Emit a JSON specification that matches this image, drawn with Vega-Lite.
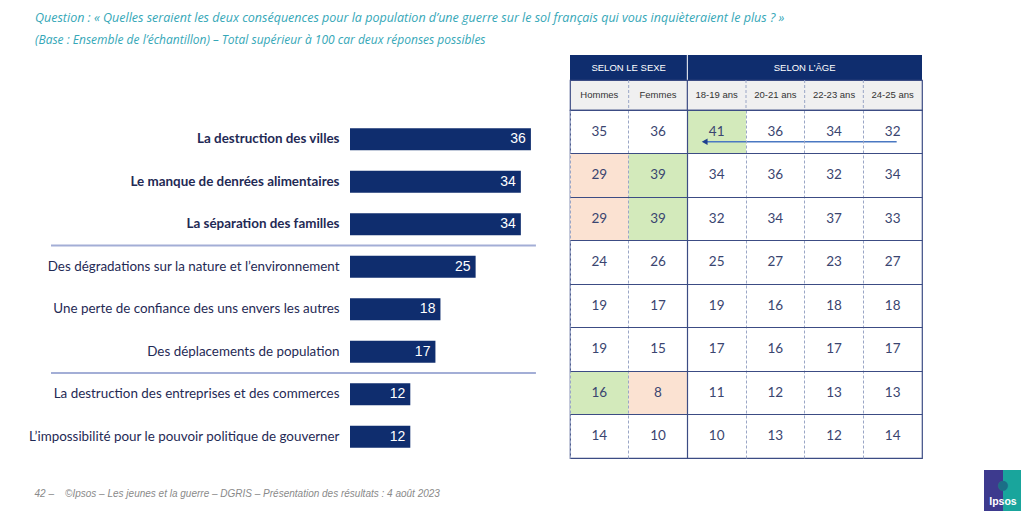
{
  "$schema": "https://vega.github.io/schema/vega-lite/v6.json",
  "padding": {"left": 28, "top": 12, "right": 0, "bottom": 0},
  "background": "white",
  "title": {
    "text": "Question : « Quelles seraient les deux conséquences pour la population d’une guerre sur le sol français qui vous inquièteraient le plus ? »",
    "subtitle": "(Base : Ensemble de l’échantillon) – Total supérieur à 100 car deux réponses possibles",
    "anchor": "start", "dx": 7, "font": "Open Sans", "fontSize": 12.5, "fontStyle": "italic", "fontWeight": "normal", "color": "#35a7b7",
    "subtitleFont": "Open Sans", "subtitleFontSize": 12, "subtitleFontStyle": "italic", "subtitleColor": "#35a7b7", "subtitlePadding": 10, "offset": 9
  },
  "datasets": {
    "items": [
      {"item": "La destruction des villes", "total": 36},
      {"item": "Le manque de denrées alimentaires", "total": 34},
      {"item": "La séparation des familles", "total": 34},
      {"item": "Des dégradations sur la nature et l’environnement", "total": 25},
      {"item": "Une perte de confiance des uns envers les autres", "total": 18},
      {"item": "Des déplacements de population", "total": 17},
      {"item": "La destruction des entreprises et des commerces", "total": 12},
      {"item": "L’impossibilité pour le pouvoir politique de gouverner", "total": 12}
    ],
    "cells": [
      {"item": "La destruction des villes", "groupe": "Hommes", "value": 35, "signif": ""},
      {"item": "La destruction des villes", "groupe": "Femmes", "value": 36, "signif": ""},
      {"item": "La destruction des villes", "groupe": "18-19 ans", "value": 41, "signif": "+"},
      {"item": "La destruction des villes", "groupe": "20-21 ans", "value": 36, "signif": ""},
      {"item": "La destruction des villes", "groupe": "22-23 ans", "value": 34, "signif": ""},
      {"item": "La destruction des villes", "groupe": "24-25 ans", "value": 32, "signif": ""},
      {"item": "Le manque de denrées alimentaires", "groupe": "Hommes", "value": 29, "signif": "-"},
      {"item": "Le manque de denrées alimentaires", "groupe": "Femmes", "value": 39, "signif": "+"},
      {"item": "Le manque de denrées alimentaires", "groupe": "18-19 ans", "value": 34, "signif": ""},
      {"item": "Le manque de denrées alimentaires", "groupe": "20-21 ans", "value": 36, "signif": ""},
      {"item": "Le manque de denrées alimentaires", "groupe": "22-23 ans", "value": 32, "signif": ""},
      {"item": "Le manque de denrées alimentaires", "groupe": "24-25 ans", "value": 34, "signif": ""},
      {"item": "La séparation des familles", "groupe": "Hommes", "value": 29, "signif": "-"},
      {"item": "La séparation des familles", "groupe": "Femmes", "value": 39, "signif": "+"},
      {"item": "La séparation des familles", "groupe": "18-19 ans", "value": 32, "signif": ""},
      {"item": "La séparation des familles", "groupe": "20-21 ans", "value": 34, "signif": ""},
      {"item": "La séparation des familles", "groupe": "22-23 ans", "value": 37, "signif": ""},
      {"item": "La séparation des familles", "groupe": "24-25 ans", "value": 33, "signif": ""},
      {"item": "Des dégradations sur la nature et l’environnement", "groupe": "Hommes", "value": 24, "signif": ""},
      {"item": "Des dégradations sur la nature et l’environnement", "groupe": "Femmes", "value": 26, "signif": ""},
      {"item": "Des dégradations sur la nature et l’environnement", "groupe": "18-19 ans", "value": 25, "signif": ""},
      {"item": "Des dégradations sur la nature et l’environnement", "groupe": "20-21 ans", "value": 27, "signif": ""},
      {"item": "Des dégradations sur la nature et l’environnement", "groupe": "22-23 ans", "value": 23, "signif": ""},
      {"item": "Des dégradations sur la nature et l’environnement", "groupe": "24-25 ans", "value": 27, "signif": ""},
      {"item": "Une perte de confiance des uns envers les autres", "groupe": "Hommes", "value": 19, "signif": ""},
      {"item": "Une perte de confiance des uns envers les autres", "groupe": "Femmes", "value": 17, "signif": ""},
      {"item": "Une perte de confiance des uns envers les autres", "groupe": "18-19 ans", "value": 19, "signif": ""},
      {"item": "Une perte de confiance des uns envers les autres", "groupe": "20-21 ans", "value": 16, "signif": ""},
      {"item": "Une perte de confiance des uns envers les autres", "groupe": "22-23 ans", "value": 18, "signif": ""},
      {"item": "Une perte de confiance des uns envers les autres", "groupe": "24-25 ans", "value": 18, "signif": ""},
      {"item": "Des déplacements de population", "groupe": "Hommes", "value": 19, "signif": ""},
      {"item": "Des déplacements de population", "groupe": "Femmes", "value": 15, "signif": ""},
      {"item": "Des déplacements de population", "groupe": "18-19 ans", "value": 17, "signif": ""},
      {"item": "Des déplacements de population", "groupe": "20-21 ans", "value": 16, "signif": ""},
      {"item": "Des déplacements de population", "groupe": "22-23 ans", "value": 17, "signif": ""},
      {"item": "Des déplacements de population", "groupe": "24-25 ans", "value": 17, "signif": ""},
      {"item": "La destruction des entreprises et des commerces", "groupe": "Hommes", "value": 16, "signif": "+"},
      {"item": "La destruction des entreprises et des commerces", "groupe": "Femmes", "value": 8, "signif": "-"},
      {"item": "La destruction des entreprises et des commerces", "groupe": "18-19 ans", "value": 11, "signif": ""},
      {"item": "La destruction des entreprises et des commerces", "groupe": "20-21 ans", "value": 12, "signif": ""},
      {"item": "La destruction des entreprises et des commerces", "groupe": "22-23 ans", "value": 13, "signif": ""},
      {"item": "La destruction des entreprises et des commerces", "groupe": "24-25 ans", "value": 13, "signif": ""},
      {"item": "L’impossibilité pour le pouvoir politique de gouverner", "groupe": "Hommes", "value": 14, "signif": ""},
      {"item": "L’impossibilité pour le pouvoir politique de gouverner", "groupe": "Femmes", "value": 10, "signif": ""},
      {"item": "L’impossibilité pour le pouvoir politique de gouverner", "groupe": "18-19 ans", "value": 10, "signif": ""},
      {"item": "L’impossibilité pour le pouvoir politique de gouverner", "groupe": "20-21 ans", "value": 13, "signif": ""},
      {"item": "L’impossibilité pour le pouvoir politique de gouverner", "groupe": "22-23 ans", "value": 12, "signif": ""},
      {"item": "L’impossibilité pour le pouvoir politique de gouverner", "groupe": "24-25 ans", "value": 14, "signif": ""}
    ],
    "colonnes": [
      {"groupe": "Hommes"}, {"groupe": "Femmes"}, {"groupe": "18-19 ans"},
      {"groupe": "20-21 ans"}, {"groupe": "22-23 ans"}, {"groupe": "24-25 ans"}
    ]
  },
  "spacing": 61,
  "resolve": {"scale": {"color": "independent", "x": "independent", "y": "independent"}},
  "hconcat": [
    {
      "spacing": 18,
      "resolve": {"scale": {"color": "independent", "x": "independent", "y": "independent"}},
      "hconcat": [
        {
          "spacing": 0,
          "vconcat": [
            {"width": 201, "height": 63, "data": {"values": [{}]}, "mark": {"type": "text", "text": ""}},
            {
              "width": 201, "height": 340,
              "data": {"name": "items"},
              "encoding": {
                "y": {
                  "field": "item", "type": "nominal", "sort": null,
                  "scale": {"paddingInner": 0, "paddingOuter": 0},
                  "axis": {
                    "title": null, "ticks": false, "tickSize": 0, "domain": false, "labelPadding": 11, "labelLimit": 400,
                    "labelFont": "Lato", "labelFontSize": 13.4, "labelColor": "#1f2a55",
                    "labelFontWeight": {"condition": {"test": "indexof(['La destruction des villes','Le manque de denrées alimentaires','La séparation des familles'], datum.value) >= 0", "value": "bold"}, "value": "normal"}
                  }
                }
              },
              "layer": [
                {
                  "mark": {"type": "bar", "color": "#0f2d6e", "height": {"band": 0.52}},
                  "encoding": {"x": {"field": "total", "type": "quantitative", "scale": {"domain": [0, 37]},
                    "axis": {"orient": "bottom", "labels": false, "ticks": false, "domain": false, "grid": false,
                      "title": "42 –\u00a0\u00a0\u00a0\u00a0©Ipsos – Les jeunes et la guerre – DGRIS – Présentation des résultats : 4 août 2023",
                      "titleAnchor": "start", "titleAlign": "left", "titleBaseline": "middle", "titleX": -316, "titleY": 35,
                      "titleFont": "Liberation Sans", "titleFontSize": 10, "titleFontStyle": "italic", "titleFontWeight": "normal", "titleColor": "#8a8a8a"}}}
                },
                {
                  "mark": {"type": "text", "align": "right", "dx": -5, "color": "white", "font": "Liberation Sans", "fontSize": 14},
                  "encoding": {"x": {"field": "total", "type": "quantitative"}, "text": {"field": "total"}}
                },
                {
                  "transform": [{"filter": "datum.item === 'Des dégradations sur la nature et l’environnement' || datum.item === 'La destruction des entreprises et des commerces'"}],
                  "mark": {"type": "rule", "color": "#a3aed6", "strokeWidth": 2, "yOffset": -21.25},
                  "encoding": {"x": {"datum": -59.5}, "x2": {"datum": 37}}
                }
              ]
            }
          ]
        },
        {
          "spacing": 0,
          "bounds": "flush",
          "vconcat": [
            {
              "width": 352, "height": 25,
              "view": {"fill": "#0f2d6e", "stroke": null},
              "data": {"values": [{}]},
              "layer": [
                {
                  "mark": {"type": "rule", "color": "white", "strokeWidth": 1},
                  "encoding": {"x": {"datum": "18-19 ans", "bandPosition": 0, "type": "nominal", "scale": {"domain": ["Hommes", "Femmes", "18-19 ans", "20-21 ans", "22-23 ans", "24-25 ans"], "paddingInner": 0, "paddingOuter": 0}, "axis": null}}
                },
                {
                  "mark": {"type": "text", "text": "SELON LE SEXE", "color": "white", "font": "Liberation Sans Narrow, Liberation Sans", "fontSize": 9.5},
                  "encoding": {"x": {"datum": "Femmes", "bandPosition": 0, "type": "nominal"}}
                },
                {
                  "mark": {"type": "text", "text": "SELON L’ÂGE", "color": "white", "font": "Liberation Sans Narrow, Liberation Sans", "fontSize": 9.5},
                  "encoding": {"x": {"datum": "22-23 ans", "bandPosition": 0, "type": "nominal"}}
                }
              ]
            },
            {
              "width": 352, "height": 30,
              "view": {"fill": "#f0f0f0", "stroke": "#3c4c84", "strokeWidth": 1.2},
              "data": {"name": "colonnes"},
              "encoding": {
                "x": {
                  "field": "groupe", "type": "nominal", "sort": null,
                  "scale": {"domain": ["Hommes", "Femmes", "18-19 ans", "20-21 ans", "22-23 ans", "24-25 ans"], "paddingInner": 0, "paddingOuter": 0},
                  "axis": null
                }
              },
              "layer": [
                {
                  "transform": [{"filter": "datum.groupe !== 'Hommes'"}],
                  "mark": {"type": "rule"},
                  "encoding": {
                    "x": {"field": "groupe", "type": "nominal", "bandPosition": 0},
                    "color": {"condition": {"test": "datum.groupe === '18-19 ans'", "value": "#3c4c84"}, "value": "#9aa6c6"},
                    "strokeDash": {"condition": {"test": "datum.groupe === '18-19 ans'", "value": [1, 0]}, "value": [3, 2]},
                    "strokeWidth": {"condition": {"test": "datum.groupe === '18-19 ans'", "value": 1.2}, "value": 1}
                  }
                },
                {
                  "mark": {"type": "text", "color": "#333333", "font": "Liberation Sans Narrow, Liberation Sans", "fontSize": 9.5},
                  "encoding": {"text": {"field": "groupe"}}
                }
              ]
            },
            {
              "width": 352, "height": 348,
              "view": {"stroke": "#3c4c84", "strokeWidth": 1.2},
              "data": {"name": "cells"},
              "encoding": {
                "x": {
                  "field": "groupe", "type": "nominal", "sort": null,
                  "scale": {"domain": ["Hommes", "Femmes", "18-19 ans", "20-21 ans", "22-23 ans", "24-25 ans"], "paddingInner": 0, "paddingOuter": 0},
                  "axis": {"orient": "bottom", "labels": false, "ticks": false, "domain": false, "title": null, "grid": true, "bandPosition": 0, "zindex": 1, "minExtent": 0, "maxExtent": 0,
                    "gridColor": {"condition": {"test": "datum.value === '18-19 ans'", "value": "#3c4c84"}, "value": "#9aa6c6"},
                    "gridDash": {"condition": {"test": "datum.value === '18-19 ans'", "value": []}, "value": [3, 2]},
                    "gridWidth": {"condition": {"test": "datum.value === '18-19 ans'", "value": 1.2}, "value": 1}}
                },
                "y": {
                  "field": "item", "type": "nominal", "sort": null,
                  "scale": {"domain": ["La destruction des villes", "Le manque de denrées alimentaires", "La séparation des familles", "Des dégradations sur la nature et l’environnement", "Une perte de confiance des uns envers les autres", "Des déplacements de population", "La destruction des entreprises et des commerces", "L’impossibilité pour le pouvoir politique de gouverner"], "paddingInner": 0, "paddingOuter": 0},
                  "axis": {"labels": false, "ticks": false, "domain": false, "title": null, "grid": true, "bandPosition": 0, "zindex": 1, "minExtent": 0, "maxExtent": 0, "gridColor": "#3c4c84", "gridWidth": 1.2}
                }
              },
              "layer": [
                {
                  "transform": [{"filter": "datum.signif !== ''"}],
                  "mark": {"type": "rect"},
                  "encoding": {"color": {"field": "signif", "type": "nominal", "scale": {"domain": ["+", "-"], "range": ["#d3eabb", "#fbe2d2"]}, "legend": null}}
                },
                {
                  "mark": {"type": "text", "color": "#3a4570", "font": "Lato", "fontSize": 13.5},
                  "encoding": {"text": {"field": "value"}}
                },
                {
                  "data": {"values": [{}]},
                  "mark": {"type": "rule", "color": "#4a78c2", "strokeWidth": 1.5, "xOffset": -12, "x2Offset": 4, "yOffset": 10, "y2Offset": 10},
                  "encoding": {"x": {"datum": "18-19 ans", "type": "nominal"}, "x2": {"datum": "24-25 ans"}, "y": {"datum": "La destruction des villes", "type": "nominal"}}
                },
                {
                  "data": {"values": [{}]},
                  "mark": {"type": "point", "shape": "triangle-left", "filled": true, "color": "#1f3f8f", "opacity": 1, "size": 45, "xOffset": -12, "yOffset": 10},
                  "encoding": {"x": {"datum": "18-19 ans", "type": "nominal"}, "y": {"datum": "La destruction des villes", "type": "nominal"}}
                }
              ]
            }
          ]
        }
      ]
    },
    {
      "spacing": 0,
      "bounds": "flush",
      "vconcat": [
        {"width": 38, "height": 415, "data": {"values": [{}]}, "mark": {"type": "text", "text": ""}},
        {
          "width": 38, "height": 41,
          "data": {"values": [{"part": "gauche"}, {"part": "droite"}]},
          "encoding": {
            "x": {"field": "part", "type": "nominal", "sort": null, "scale": {"domain": ["gauche", "droite"], "paddingInner": 0, "paddingOuter": 0}, "axis": null}
          },
          "layer": [
            {
              "transform": [{"filter": "datum.part === 'gauche'"}],
              "mark": {"type": "rect", "color": "#3d3a8e"}
            },
            {
              "transform": [{"filter": "datum.part === 'droite'"}],
              "mark": {"type": "rect", "color": "#19a59c"}
            },
            {
              "data": {"values": [{}]},
              "mark": {"type": "text", "text": "Ipsos", "color": "white", "font": "Liberation Sans", "fontWeight": "bold", "fontSize": 10.5, "dy": 11},
              "encoding": {"x": {"datum": "gauche", "bandPosition": 1, "type": "nominal"}}
            },
            {
              "data": {"values": [{}]},
              "mark": {"type": "text", "text": "●", "color": "#1b6f86", "font": "DejaVu Sans", "fontSize": 13, "dy": -6},
              "encoding": {"x": {"datum": "gauche", "bandPosition": 1, "type": "nominal"}}
            }
          ]
        }
      ]
    }
  ],
  "config": {"view": {"stroke": null}}
}
